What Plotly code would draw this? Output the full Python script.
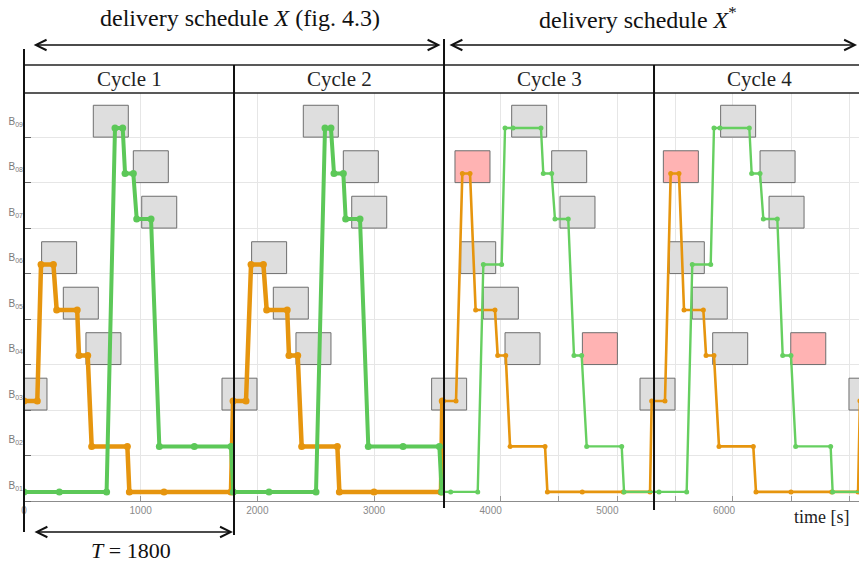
import plotly.graph_objects as go

# ---------------- data ----------------
bay_numbers = [1, 2, 3, 4, 5, 6, 7, 8, 9]
bay_labels = ["B<sub>01</sub>", "B<sub>02</sub>", "B<sub>03</sub>", "B<sub>04</sub>", "B<sub>05</sub>",
              "B<sub>06</sub>", "B<sub>07</sub>", "B<sub>08</sub>", "B<sub>09</sub>"]

cycle_bounds = [0, 1800, 3600, 5400, 7200]
cycle_names = ["Cycle 1", "Cycle 2", "Cycle 3", "Cycle 4"]

x_tick_values = [0, 1000, 2000, 3000, 4000, 5000, 6000]
x_tick_labels = ["0", "1000", "2000", "3000", "4000", "5000", "6000"]
x_grid_values = [1000, 2000, 3000, 4085, 4585, 5085, 5580, 6075, 6580, 7075]

# delivery schedule X (cycles 1-2)
orange_x_t = [0, 114, 146, 252, 280, 456, 471, 546, 580, 886, 903, 1200, 1774,
              1792, 1903, 1946, 2052, 2080, 2256, 2271, 2346, 2380, 2686, 2703, 3000, 3574,
              3585]
orange_x_bay = [3, 3, 6, 6, 5, 5, 4, 4, 2, 2, 1, 1, 1,
                3, 3, 6, 6, 5, 5, 4, 4, 2, 2, 1, 1, 1,
                3]
green_x_t = [0, 303, 708, 780, 846, 866, 937, 966, 1089, 1160, 1460, 1774, 1794,
             2100, 2503, 2580, 2631, 2657, 2737, 2757, 2880, 2951, 3249, 3560, 3580]
green_x_bay = [1, 1, 1, 9, 9, 8, 8, 7, 7, 2, 2, 2, 1,
               1, 1, 9, 9, 8, 8, 7, 7, 2, 2, 2, 1]

# delivery schedule X* (cycles 3-4)
orange_xs_t = [3585, 3703, 3757, 3823, 3871, 4037, 4060, 4129, 4166, 4466, 4486, 4785, 5137, 5366, 5380,
               5494, 5543, 5614, 5657, 5823, 5846, 5914, 5957, 6251, 6274, 6574, 6923, 7149, 7165]
orange_xs_bay = [3, 3, 8, 8, 5, 5, 4, 4, 2, 2, 1, 1, 1, 1, 3,
                 3, 8, 8, 5, 5, 4, 4, 2, 2, 1, 1, 1, 1, 3]
green_xs_t = [3580, 3657, 3889, 3937, 4094, 4123, 4191, 4431, 4451, 4523, 4551, 4665, 4714, 4780,
              4823, 5123, 5143, 5443, 5680, 5728, 5886, 5914, 5966, 6217, 6237, 6309, 6337, 6457,
              6503, 6574, 6614, 6914, 6931, 7250]
green_xs_bay = [1, 1, 1, 6, 6, 9, 9, 9, 8, 8, 7, 7, 4, 4,
                2, 2, 1, 1, 1, 6, 6, 9, 9, 9, 8, 8, 7, 7,
                4, 4, 2, 2, 1, 1]

# time windows (boxes)
box_start = [-103, 151, 337, 531, 594, 937, 1009,
             1697, 1951, 2137, 2331, 2394, 2737, 2809,
             3494, 3694, 3743, 3937, 4123, 4180, 4523, 4594, 4786,
             5280, 5480, 5531, 5728, 5903, 5971, 6309, 6386, 6572,
             7071]
box_end = [197, 451, 637, 831, 894, 1237, 1309,
           1997, 2251, 2437, 2631, 2694, 3037, 3109,
           3794, 3994, 4043, 4237, 4423, 4480, 4823, 4894, 5086,
           5580, 5780, 5831, 6028, 6203, 6271, 6609, 6686, 6872,
           7371]
box_bay = [3, 6, 5, 4, 9, 8, 7,
           3, 6, 5, 4, 9, 8, 7,
           3, 8, 6, 5, 4, 9, 8, 7, 4,
           3, 8, 6, 5, 4, 9, 8, 7, 4,
           3]
box_status = ["ok"] * 14 + ["ok", "late", "ok", "ok", "ok", "ok", "ok", "ok", "late",
                             "ok", "late", "ok", "ok", "ok", "ok", "ok", "ok", "late", "ok"]

# ---------------- styling constants ----------------
W, H = 859, 564
ML, MR, MT, MB = 24, 0, 93, 63
PW, PH = W - ML - MR, H - MT - MB
X_RANGE = [0, 7157]
Y_RANGE = [1, 9.97]
LINE_OFF = 0.2
BOX_H = 0.7
LABEL_OFF = 0.35
ORANGE = "#E6950E"
GREEN = "#5CC858"
GREEN2 = "#66CF60"
SERIF = "Liberation Serif"
SANS = "Liberation Sans"


def xp(t):
    return (t - X_RANGE[0]) / (X_RANGE[1] - X_RANGE[0])


def yp(py):
    return (H - MB - py) / PH


fig = go.Figure()

fig.add_trace(go.Scatter(x=orange_x_t, y=[b + LINE_OFF for b in orange_x_bay], mode="lines+markers",
                         line=dict(color=ORANGE, width=4.5), marker=dict(size=7, color=ORANGE),
                         showlegend=False, hoverinfo="skip"))
fig.add_trace(go.Scatter(x=orange_xs_t, y=[b + LINE_OFF for b in orange_xs_bay], mode="lines+markers",
                         line=dict(color=ORANGE, width=2.6), marker=dict(size=5, color=ORANGE),
                         showlegend=False, hoverinfo="skip"))
fig.add_trace(go.Scatter(x=green_x_t, y=[b + LINE_OFF for b in green_x_bay], mode="lines+markers",
                         line=dict(color=GREEN, width=4), marker=dict(size=7, color=GREEN),
                         showlegend=False, hoverinfo="skip"))
fig.add_trace(go.Scatter(x=green_xs_t, y=[b + LINE_OFF for b in green_xs_bay], mode="lines+markers",
                         line=dict(color=GREEN2, width=2.4), marker=dict(size=5, color=GREEN2),
                         showlegend=False, hoverinfo="skip"))

shapes = []
for s, e, b, st in zip(box_start, box_end, box_bay, box_status):
    shapes.append(dict(type="rect", xref="x", yref="y", x0=s, x1=e, y0=b, y1=b + BOX_H,
                       fillcolor="#FFB3B3" if st == "late" else "#DEDEDE",
                       line=dict(color="#6E6E6E", width=1), layer="between"))

# header box lines
for py in [65, 93]:
    shapes.append(dict(type="line", xref="paper", yref="paper", x0=0, x1=1, y0=yp(py), y1=yp(py),
                       line=dict(color="#222222", width=1.6), layer="above"))
# cycle boundary lines
vline_spans = [(49, 532), (65, 535), (39, 508), (65, 510)]
for t, (top, bot) in zip(cycle_bounds[:4], vline_spans):
    shapes.append(dict(type="line", xref="paper", yref="paper", x0=xp(t), x1=xp(t),
                       y0=yp(top), y1=yp(bot), line=dict(color="#111111", width=2), layer="above"))

annotations = []
# double arrows
arrow_specs = [(70, 3570, yp(45)), (3634, 7140, yp(45)), (77, 1791, yp(532))]
for a, b, y in arrow_specs:
    annotations.append(dict(x=b, y=y, xref="x", yref="paper", ax=a, ay=0, axref="x", ayref="pixel",
                            text="", showarrow=True, arrowside="end+start", arrowhead=5,
                            arrowsize=1.3, arrowwidth=1.6, arrowcolor="#111111", standoff=0,
                            startstandoff=0))


def label(x, y, text, size, color="#111111", xref="paper"):
    return dict(x=x, y=y, xref=xref, yref="paper", text=text, showarrow=False,
                xanchor="center", yanchor="middle",
                font=dict(family=SERIF, size=size, color=color))


annotations.append(label(xp(1850), yp(18), "delivery schedule <i>X</i> (fig. 4.3)", 24))
annotations.append(label(xp(5265), yp(18), "delivery schedule <i>X</i><sup>*</sup>", 24))
for i, name in enumerate(cycle_names):
    mid = (cycle_bounds[i] + cycle_bounds[i + 1]) / 2
    annotations.append(label(mid, yp(79), name, 21, "#222222", xref="x"))
annotations.append(label(xp(920), yp(550), "<i>T</i> = 1800", 22))
annotations.append(label(xp(6840), yp(517), "time [s]", 18, "#222222"))

fig.update_layout(
    width=W, height=H, autosize=False,
    margin=dict(l=ML, r=MR, t=MT, b=MB, pad=0),
    paper_bgcolor="white", plot_bgcolor="white",
    shapes=shapes, annotations=annotations, showlegend=False,
    xaxis=dict(range=X_RANGE, tickmode="array", tickvals=x_tick_values, ticktext=x_tick_labels,
               showgrid=False, zeroline=False, ticks="", showline=True, linecolor="#8C8C8C",
               linewidth=1, tickfont=dict(family=SANS, size=10, color="#8A8A8A"),
               minor=dict(tickmode="array", tickvals=x_grid_values, showgrid=True,
                          gridcolor="#E6E6E6", gridwidth=1, ticks="inside", ticklen=5,
                          tickcolor="#999999")),
    yaxis=dict(range=Y_RANGE, tickmode="array", tickvals=[b + LABEL_OFF for b in bay_numbers],
               ticktext=bay_labels, showgrid=False, zeroline=False, ticks="", showline=False,
               tickfont=dict(family=SANS, size=10, color="#7A7A7A"),
               minor=dict(tickmode="array", tickvals=bay_numbers, showgrid=True,
                          gridcolor="#E6E6E6", gridwidth=1, ticks="inside", ticklen=7,
                          tickcolor="#666666")),
)

fig.write_html("out.html")
